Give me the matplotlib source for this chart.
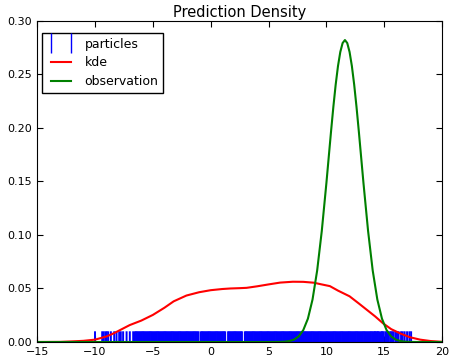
import matplotlib
matplotlib.use('Agg')
import matplotlib.pyplot as plt
from matplotlib.lines import Line2D

# particle positions (rug)
particles = [
    -10.0, -9.38, -9.24, -9.09, -8.98, -8.86, -8.63, -8.34, -8.14, -7.91, -7.77,
    -7.57, -7.27, -6.99, -6.7,
    -6.55, -6.45, -6.35, -6.25, -6.15, -6.05, -5.95, -5.85, -5.75, -5.65, -5.55,
    -5.45, -5.35, -5.25, -5.15, -5.05, -4.95, -4.85, -4.75, -4.65, -4.55, -4.45,
    -4.35, -4.25, -4.15, -4.05, -3.95, -3.85, -3.75, -3.65, -3.55, -3.45, -3.35,
    -3.25, -3.15, -3.05, -2.95, -2.85, -2.75, -2.65, -2.55, -2.45, -2.35, -2.25,
    -2.15, -2.05, -1.95, -1.85, -1.75, -1.65, -1.55, -1.45, -1.35, -1.25, -1.15,
    -1.05, -0.85, -0.75, -0.65, -0.55, -0.45, -0.35, -0.25, -0.15, -0.05, 0.05,
    0.15, 0.25, 0.35, 0.45, 0.55, 0.65, 0.75, 0.85, 0.95, 1.05, 1.15, 1.25,
    1.5, 1.6, 1.7, 1.8, 1.9, 2.0, 2.1, 2.2, 2.3, 2.4, 2.5, 2.6, 2.7,
    2.95, 3.05, 3.15, 3.25, 3.35, 3.45, 3.55, 3.65, 3.75, 3.85, 3.95, 4.05,
    4.15, 4.25, 4.35, 4.45, 4.55, 4.65, 4.75, 4.85, 4.95, 5.05, 5.15, 5.25,
    5.35, 5.45, 5.55, 5.65, 5.75, 5.85, 5.95, 6.05, 6.15, 6.25, 6.35, 6.45,
    6.55, 6.65, 6.75, 6.85, 6.95, 7.05, 7.15, 7.25, 7.35, 7.45, 7.55, 7.65,
    7.75, 7.85, 7.95, 8.05, 8.15, 8.25, 8.35, 8.45, 8.55, 8.65, 8.75, 8.85,
    8.95, 9.05, 9.15, 9.25, 9.35, 9.45, 9.55, 9.65, 9.75, 9.85, 9.95, 10.05,
    10.15, 10.25, 10.35, 10.45, 10.55, 10.65, 10.75, 10.85, 10.95, 11.05, 11.15,
    11.25, 11.35, 11.45, 11.55, 11.65, 11.75, 11.85, 11.95, 12.05, 12.15, 12.25,
    12.35, 12.45, 12.55, 12.65, 12.75, 12.85, 12.95, 13.05, 13.15, 13.25, 13.35,
    13.45, 13.55, 13.65, 13.75, 13.85, 13.95,
    14.05, 14.15, 14.2, 14.3, 14.4, 14.45, 14.55, 14.7, 14.8, 14.85, 14.95,
    15.1, 15.2, 15.25, 15.35, 15.5, 15.6, 15.7, 15.8,
    15.96, 16.1, 16.24, 16.45, 16.59, 16.76, 16.97, 17.17, 17.32,
]
rug_height = 0.01

# kde curve
kde_x = [-15.0, -13.0, -11.9, -11.0, -10.0, -9.0, -8.4, -7.0, -6.0, -5.0,
         -4.0, -3.2, -2.1, -1.0, 0.0, 1.0, 1.7, 2.5, 3.1, 4.0, 5.0, 6.0, 7.1,
         8.0, 8.9, 9.5, 10.3, 11.0, 12.0, 12.8, 13.5, 14.2, 14.9, 15.6, 16.4,
         17.2, 18.1, 19.0, 19.8, 20.0]
kde_y = [0.0, 0.0001, 0.0006, 0.0011, 0.0022, 0.0052, 0.008, 0.0158, 0.020,
         0.0253, 0.032, 0.038, 0.0434, 0.0465, 0.0484, 0.0495, 0.05, 0.0503,
         0.0506, 0.052, 0.0538, 0.0555, 0.0563, 0.0562, 0.0554, 0.054, 0.0522,
         0.048, 0.0427, 0.036, 0.030, 0.024, 0.0174, 0.012, 0.0079, 0.0045,
         0.0022, 0.0009, 0.0003, 0.0002]

# observation density
obs_x = [-15.0, 5.0, 6.0, 6.4, 6.8, 7.2, 7.6, 8.0, 8.4, 8.8, 9.2, 9.6, 10.0,
         10.2, 10.4, 10.6, 10.8, 11.0, 11.2, 11.4, 11.6, 11.8, 12.0, 12.2,
         12.4, 12.6, 12.8, 13.0, 13.2, 13.6, 14.0, 14.4, 14.8, 15.2, 15.6,
         16.0, 16.4, 16.8, 17.2, 18.0, 20.0]
obs_y = [0.0, 0.0, 0.0001, 0.0003, 0.0009, 0.0022, 0.0052, 0.0111, 0.0218,
         0.0397, 0.0668, 0.1038, 0.1487, 0.1728, 0.1968, 0.2197, 0.2404,
         0.2578, 0.2710, 0.2793, 0.2821, 0.2793, 0.2710, 0.2578, 0.2404,
         0.2197, 0.1968, 0.1728, 0.1487, 0.1038, 0.0668, 0.0397, 0.0218,
         0.0111, 0.0052, 0.0022, 0.0009, 0.0003, 0.0001, 0.0, 0.0]

fig = plt.figure(figsize=(4.53, 3.60), dpi=100)
ax = fig.add_axes([0.082, 0.05, 0.894, 0.892])

ax.vlines(particles, 0, rug_height, color='b', linewidth=1.4, snap=False)
ax.plot(kde_x, kde_y, color='r', linewidth=1.5)
ax.plot(obs_x, obs_y, color=(0, 0.5, 0), linewidth=1.5)

ax.set_xlim(-15, 20)
ax.set_ylim(0, 0.30)
ax.set_xticks(range(-15, 21, 5))
ax.set_yticks([0.0, 0.05, 0.10, 0.15, 0.20, 0.25, 0.30])
ax.set_yticklabels(['0.00', '0.05', '0.10', '0.15', '0.20', '0.25', '0.30'])
ax.tick_params(direction='in', top=True, right=True, labelsize=8, length=4)
ax.set_title('Prediction Density', fontsize=10.5, pad=3)

handles = [
    Line2D([], [], color='b', marker='|', linestyle='none', markersize=15),
    Line2D([], [], color='r', linewidth=1.5),
    Line2D([], [], color=(0, 0.5, 0), linewidth=1.5),
]
leg = ax.legend(handles, ['particles', 'kde', 'observation'], loc='upper left',
                bbox_to_anchor=(0.012, 0.963), borderaxespad=0,
                numpoints=2, fontsize=9, fancybox=False, framealpha=1,
                edgecolor='black', handlelength=2.2, labelspacing=0.45)
leg.get_frame().set_linewidth(1.0)

fig.savefig('out.png', dpi=100)
